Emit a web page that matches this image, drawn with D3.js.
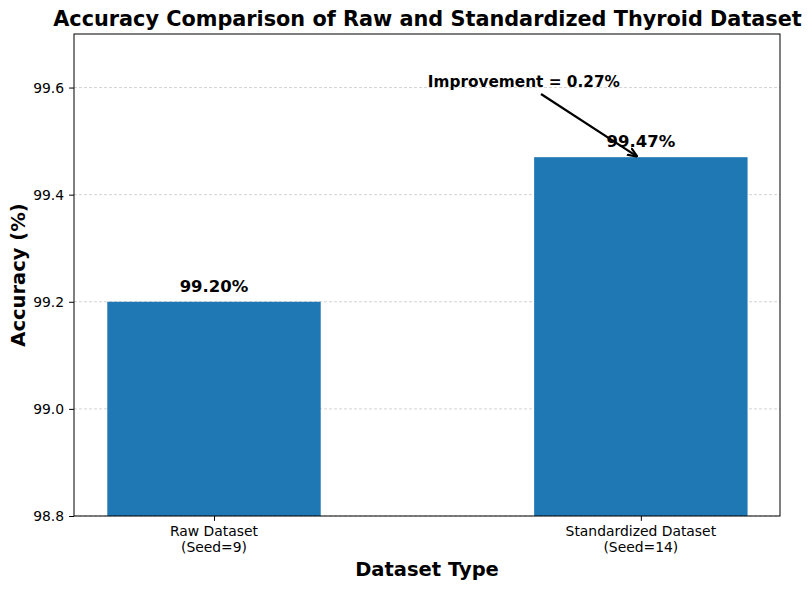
<!DOCTYPE html>
<html>
<head>
<meta charset="utf-8">
<script src="https://cdn.jsdelivr.net/npm/d3@7"></script>
<style>
body { margin: 0; background: #fff; }
text { font-family: "DejaVu Sans", sans-serif; }
</style>
</head>
<body>
<script>
var categories = ["Raw Dataset|(Seed=9)", "Standardized Dataset|(Seed=14)"];
var accuracies = [99.20, 99.47];
var yTicks = [98.8, 99.0, 99.2, 99.4, 99.6];
var improvement = 0.27;

var W = 812, H = 590;
var pLeft = 74, pRight = 780, pTop = 34, pBottom = 516;

var svg = d3.select("body").append("svg").attr("width", W).attr("height", H);

// matplotlib-like linear x: category index -> px
var x = d3.scaleLinear().domain([-0.328, 1.326]).range([pLeft, pRight]);
var y = d3.scaleLinear().domain([98.8, 99.7]).range([pBottom, pTop]);
var barW = 0.5;

// grid
svg.selectAll("line.grid")
.data(yTicks)
.enter().append("line")
	.attr("class", "grid")
	.attr("x1", pLeft).attr("x2", pRight)
	.attr("y1", function(d){ return y(d); })
	.attr("y2", function(d){ return y(d); })
	.attr("stroke", "#b0b0b0").attr("stroke-opacity", 0.7)
	.attr("stroke-width", 0.8).attr("stroke-dasharray", "3,2");

// bars
svg.selectAll("rect.bar")
.data(accuracies)
.enter().append("rect")
	.attr("class", "bar")
	.attr("x", function(d,i){ return x(i - barW/2); })
	.attr("width", function(d,i){ return x(i + barW/2) - x(i - barW/2); })
	.attr("y", function(d){ return y(d); })
	.attr("height", function(d){ return pBottom - y(d); })
	.attr("fill", "#1f77b4");

// value labels
svg.selectAll("text.val")
.data(accuracies)
.enter().append("text")
	.attr("class", "val")
	.attr("x", function(d,i){ return x(i); })
	.attr("y", function(d){ return y(d) - 10; })
	.attr("text-anchor", "middle")
	.attr("font-size", "16.5px").attr("font-weight", "bold")
	.text(function(d){ return d.toFixed(2) + "%"; });

// axes
var yAxis = d3.axisLeft(y).tickValues(yTicks).tickSize(4.9).tickPadding(5)
	.tickFormat(d3.format(".1f"));
var gy = svg.append("g").attr("transform", "translate(" + pLeft + ",0)").call(yAxis);
gy.select(".domain").remove();
gy.selectAll("text").attr("font-size", "13.9px").attr("fill", "#000")
	.attr("font-family", "DejaVu Sans, sans-serif");
gy.selectAll("line").attr("stroke", "#000");

var xAxis = d3.axisBottom(x).tickValues([0, 1]).tickSize(4.9).tickFormat("");
var gx = svg.append("g").attr("transform", "translate(0," + pBottom + ")").call(xAxis);
gx.select(".domain").remove();
gx.selectAll("line").attr("stroke", "#000");

svg.selectAll("text.cat")
.data(categories)
.enter().append("text")
	.attr("class", "cat")
	.attr("x", function(d,i){ return x(i); })
	.attr("y", pBottom + 20)
	.attr("text-anchor", "middle")
	.attr("font-size", "13.9px")
	.each(function(d){
		var parts = d.split("|");
		var t = d3.select(this);
		parts.forEach(function(p, k){
			t.append("tspan").attr("x", t.attr("x")).attr("dy", k === 0 ? 0 : 16).text(p);
		});
	});

// frame
svg.append("rect")
	.attr("x", pLeft).attr("y", pTop)
	.attr("width", pRight - pLeft).attr("height", pBottom - pTop)
	.attr("fill", "none").attr("stroke", "#000").attr("stroke-width", 1);

// axis titles
svg.append("text")
	.attr("x", (pLeft + pRight) / 2).attr("y", 576)
	.attr("text-anchor", "middle")
	.attr("font-size", "19.5px").attr("font-weight", "bold")
	.text("Dataset Type");

svg.append("text")
	.attr("transform", "translate(25," + ((pTop + pBottom) / 2) + ") rotate(-90)")
	.attr("text-anchor", "middle")
	.attr("font-size", "19.5px").attr("font-weight", "bold")
	.text("Accuracy (%)");

// title
svg.append("text")
	.attr("x", 427.5).attr("y", 26)
	.attr("text-anchor", "middle")
	.attr("font-size", "20.8px").attr("font-weight", "bold")
	.text("Accuracy Comparison of Raw and Standardized Thyroid Dataset");

// annotation
var defs = svg.append("defs");
defs.append("marker")
	.attr("id", "arr").attr("viewBox", "0 0 10 10")
	.attr("refX", 9).attr("refY", 5)
	.attr("markerWidth", 10).attr("markerHeight", 10)
	.attr("markerUnits", "userSpaceOnUse")
	.attr("orient", "auto")
	.append("path").attr("d", "M0,1 L10,5 L0,9").attr("fill", "none")
	.attr("stroke", "#000").attr("stroke-width", 2.2);

var annX = 0.726, annY = 99.61;
svg.append("text")
	.attr("x", x(annX)).attr("y", y(annY) + 5)
	.attr("text-anchor", "middle")
	.attr("font-size", "15.3px").attr("font-weight", "bold")
	.text("Improvement = " + improvement.toFixed(2) + "%");

svg.append("line")
	.attr("x1", 541).attr("y1", 94)
	.attr("x2", x(0.99)).attr("y2", y(accuracies[1]) - 1)
	.attr("stroke", "#000").attr("stroke-width", 2.2)
	.attr("marker-end", "url(#arr)");
</script>
</body>
</html>
